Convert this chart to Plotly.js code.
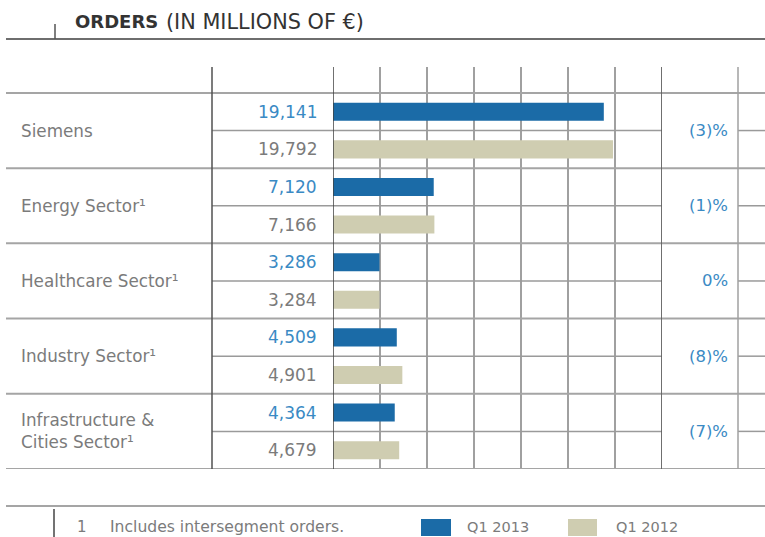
<!DOCTYPE html>
<html>
<head>
<meta charset="utf-8">
<script src="https://cdn.plot.ly/plotly-3.0.1.min.js"></script>
<style>
  html, body { margin: 0; padding: 0; background: #ffffff; }
  #chart { width: 765px; height: 537px; }
</style>
</head>
<body>
<div id="chart"></div>
<script>
// ---- data ----
const categories = ["Siemens", "Energy Sector¹", "Healthcare Sector¹", "Industry Sector¹", "Infrastructure &<br>Cities Sector¹"];
const seriesNames = ["Q1 2013", "Q1 2012"];
const q12013 = [19141, 7120, 3286, 4509, 4364];
const q12012 = [19792, 7166, 3284, 4901, 4679];
const q12013Labels = ["19,141", "7,120", "3,286", "4,509", "4,364"];
const q12012Labels = ["19,792", "7,166", "3,284", "4,901", "4,679"];
const changeLabels = ["(3)%", "(1)%", "0%", "(8)%", "(7)%"];
const titleBold = "ORDERS";
const titleRest = "(IN MILLIONS OF €)";
const footnoteMark = "1";
const footnoteText = "Includes intersegment orders.";

// ---- styling ----
const W = 765, H = 537;
const blueBar = "#1b6ba7", beigeBar = "#cfcdb1";
const blueText = "#3a8ac4", grayText = "#7b7b7b";
const FONT = "DejaVu Sans, Open Sans, sans-serif";
const px = x => x / W;
const py = y => 1 - y / H;

const gridStep = 3322;          // value per grid column
const xMax = gridStep * 7;
const yTop = -0.69;             // space above table for the column heads

const n = categories.length;
const yQ13 = categories.map((_, i) => 2 * i + 0.5);
const yQ12 = categories.map((_, i) => 2 * i + 1.5);

const traces = [
  { type: "bar", orientation: "h", name: seriesNames[0], x: q12013, y: yQ13, width: 0.48,
    marker: { color: blueBar }, hoverinfo: "x+name" },
  { type: "bar", orientation: "h", name: seriesNames[1], x: q12012, y: yQ12, width: 0.48,
    marker: { color: beigeBar }, hoverinfo: "x+name" }
];

const shapes = [];
const line = (x0, y0, x1, y1, color, width, xref, yref) =>
  shapes.push({ type: "line", xref: xref || "paper", yref: yref || "paper",
    x0, y0, x1, y1, line: { color, width }, layer: "above" });

// header rule and tick
line(px(6), py(39), 1, py(39), "#6e6e6e", 2);
line(px(55), py(24), px(55), py(39), "#555", 1.5);
// row separators (full width)
for (let i = 0; i <= n; i++) line(px(6), 2 * i, 1, 2 * i, "#a5a5a5", 2, "paper", "y");
// sub-row separators
for (let i = 0; i < n; i++) {
  line(px(212), 2 * i + 1, px(662), 2 * i + 1, "#9a9a9a", 1.5, "paper", "y");
  line(px(738), 2 * i + 1, 1, 2 * i + 1, "#9a9a9a", 1.5, "paper", "y");
}
// column lines
line(px(212), yTop, px(212), 2 * n, "#505050", 1.5, "paper", "y");
line(0, yTop, 0, 2 * n, "#404040", 1.5, "x", "y");
line(xMax, yTop, xMax, 2 * n, "#606060", 1.8, "x", "y");
line(px(738), yTop, px(738), 2 * n, "#a0a0a0", 1.5, "paper", "y");
// footer rule and tick
line(px(6), py(506), 1, py(506), "#a5a5a5", 2);
line(px(54), py(509), px(54), py(537), "#444", 1.5);
// legend swatches
shapes.push({ type: "rect", xref: "paper", yref: "paper", x0: px(421), x1: px(451), y0: py(536), y1: py(519),
  fillcolor: blueBar, line: { width: 0 } });
shapes.push({ type: "rect", xref: "paper", yref: "paper", x0: px(568), x1: px(597), y0: py(536), y1: py(519),
  fillcolor: beigeBar, line: { width: 0 } });

const annotations = [];
const txt = (text, x, y, anchor, color, size, xref, yref) => annotations.push({
  text, x, y, xref: xref || "paper", yref: yref || "paper", xanchor: anchor, yanchor: "middle",
  align: anchor === "right" ? "right" : "left",
  showarrow: false, font: { family: FONT, size, color }
});

txt("<b>" + titleBold + "</b>", px(73), py(22), "left", "#333333", 18);
txt(titleRest, px(164), py(22), "left", "#333333", 20.8);
for (let i = 0; i < n; i++) {
  txt(categories[i], px(19), 2 * i + 1, "left", grayText, 16.8, "paper", "y");
  txt(q12013Labels[i], px(319), yQ13[i], "right", blueText, 17, "paper", "y");
  txt(q12012Labels[i], px(319), yQ12[i], "right", grayText, 17, "paper", "y");
  txt(changeLabels[i], px(730), 2 * i + 1, "right", blueText, 16.5, "paper", "y");
}
txt(footnoteMark, px(75), py(527), "left", grayText, 15);
txt(footnoteText, px(108), py(527), "left", grayText, 15.6);
txt(seriesNames[0], px(465), py(527), "left", grayText, 14.5);
txt(seriesNames[1], px(614), py(527), "left", grayText, 14.5);

const layout = {
  width: W, height: H,
  margin: { l: 0, r: 0, t: 0, b: 0 },
  paper_bgcolor: "#ffffff", plot_bgcolor: "#ffffff",
  showlegend: false,
  barmode: "overlay",
  xaxis: { domain: [px(333), px(662)], range: [0, xMax], dtick: gridStep, tick0: 0,
    showgrid: true, gridcolor: "#a0a0a0", gridwidth: 1.5, zeroline: false,
    showticklabels: false, ticks: "", fixedrange: true },
  yaxis: { domain: [py(469), py(67)], range: [2 * n, yTop],
    showgrid: false, zeroline: false, showticklabels: false, ticks: "", fixedrange: true },
  shapes, annotations,
  font: { family: FONT }
};

Plotly.newPlot("chart", traces, layout, { displayModeBar: false, staticPlot: true });
</script>
</body>
</html>
